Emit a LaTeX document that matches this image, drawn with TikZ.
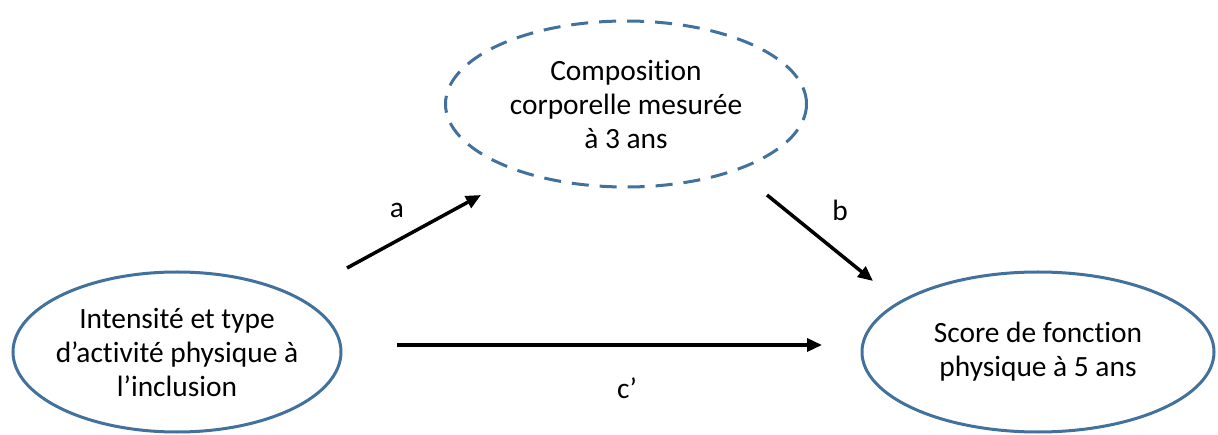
\documentclass[tikz,border=0pt]{standalone}
\usepackage{fontspec}
\setmainfont[Ligatures=NoCommon]{Carlito}
\usetikzlibrary{shapes.geometric,arrows.meta}
\definecolor{bordbleu}{RGB}{65,113,156}
\tikzset{
  bulle/.style={ellipse, draw=bordbleu, line width=3pt, inner sep=-12pt,
    align=center, font=\fontsize{29.4}{34}\selectfont},
  fleche/.style={->, line width=3.5pt},
  lettre/.style={font=\fontsize{29.4}{34}\selectfont}
}
\begin{document}
\begin{tikzpicture}[x=1pt, y=-1pt, >={Triangle[length=15pt,width=13pt]}]
            \useasboundingbox (0,0) rectangle (1218,435);

            % les trois variables
            \node[bulle, minimum width=328pt, minimum height=160pt] (incl) at (177,352)
              {Intensité et type\\d’activité physique à\\l’inclusion};
            \node[bulle, dash pattern=on 17pt off 11pt, minimum width=361pt, minimum height=166pt] (compo) at (626,104)
              {Composition\\corporelle mesurée\\à 3 ans};
            \node[bulle, minimum width=352pt, minimum height=160pt] (score) at (1038,352)
              {Score de fonction\\physique à 5 ans};

            % extrémités des flèches
            \coordinate (a1) at (347,268);
            \coordinate (a2) at (481,195);
            \coordinate (b1) at (767,195);
            \coordinate (b2) at (873,281);
            \coordinate (c1) at (397,345);
            \coordinate (c2) at (822,345);

            % chemins
            \draw[fleche] (a1) -- (a2);
            \draw[fleche] (b1) -- (b2);
            \draw[fleche] (c1) -- (c2);

            % lettres
            \node[lettre] (la) at (397,210) {a};
            \node[lettre] (lb) at (840,210) {b};
            \node[lettre] (lc) at (627,388) {c’};
        \end{tikzpicture}
\end{document}
